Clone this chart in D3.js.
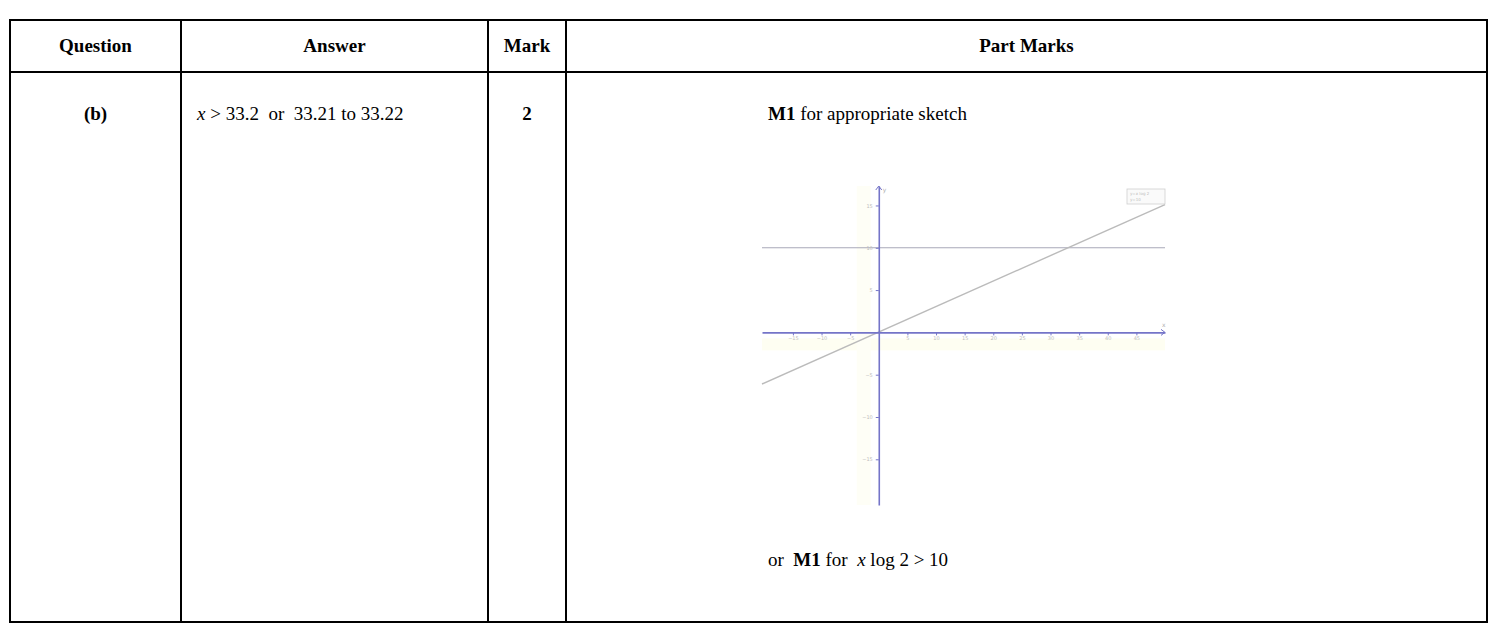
<!DOCTYPE html>
<html>
<head>
<meta charset="utf-8">
<script src="https://cdn.jsdelivr.net/npm/d3@7"></script>
<style>
  body { margin: 0; background: #fff; }
  svg text { font-family: "Liberation Serif", "Times New Roman", serif; white-space: pre; }
</style>
</head>
<body>
<div class="chart"></div>
<script>
// table content
const headers = ["Question", "Answer", "Mark", "Part Marks"];
const rowQuestion = "(b)";
const rowMark = "2";

// sketch data
const xTicks = [-15, -10, -5, 5, 10, 15, 20, 25, 30, 35, 40, 45];
const yTicks = [-15, -10, -5, 5, 10, 15];
const slopeLine = [{x: -20.4, y: -6.1}, {x: 50, y: 15.1}];   // y = x log 2
const levelLine = [{x: -20.4, y: 10}, {x: 50, y: 10}];      // y = 10

const W = 1496, H = 624;
const svg = d3.select(".chart").append("svg")
    .attr("width", W).attr("height", H);

// table grid
const colX = [10, 181, 488, 566, 1487];
const tblTop = 20, headBottom = 72, tblBottom = 622;

const grid = svg.append("g").attr("stroke", "#000").attr("stroke-width", 2);
colX.forEach(x => grid.append("line").attr("x1", x).attr("x2", x).attr("y1", tblTop - 1).attr("y2", tblBottom + 1));
[tblTop, headBottom, tblBottom].forEach(y => grid.append("line").attr("x1", colX[0] - 1).attr("x2", colX[4] + 1).attr("y1", y).attr("y2", y));

// header texts
svg.selectAll(".hdr")
    .data(headers)
    .enter()
    .append("text")
    .attr("class", "hdr")
    .attr("x", (d, i) => (colX[i] + colX[i + 1]) / 2)
    .attr("y", 52)
    .attr("text-anchor", "middle")
    .attr("font-size", 19)
    .attr("font-weight", "bold")
    .text(d => d);

const rowY = 120;
svg.append("text")
    .attr("x", (colX[0] + colX[1]) / 2).attr("y", rowY)
    .attr("text-anchor", "middle").attr("font-size", 19).attr("font-weight", "bold")
    .text(rowQuestion);

const ans = svg.append("text").attr("x", 197).attr("y", rowY).attr("font-size", 19);
ans.append("tspan").attr("font-style", "italic").text("x");
ans.append("tspan").text(" > 33.2  or  33.21 to 33.22");

svg.append("text")
    .attr("x", (colX[2] + colX[3]) / 2).attr("y", rowY)
    .attr("text-anchor", "middle").attr("font-size", 19).attr("font-weight", "bold")
    .text(rowMark);

const pm = svg.append("text").attr("x", 768).attr("y", rowY).attr("font-size", 19);
pm.append("tspan").attr("font-weight", "bold").text("M1");
pm.append("tspan").text(" for appropriate sketch");

const pm2 = svg.append("text").attr("x", 768).attr("y", 566).attr("font-size", 19);
pm2.append("tspan").text("or  ");
pm2.append("tspan").attr("font-weight", "bold").text("M1");
pm2.append("tspan").text(" for  ");
pm2.append("tspan").attr("font-style", "italic").text("x");
pm2.append("tspan").text(" log 2 > 10");

// the sketch
const xScale = d3.scaleLinear().domain([-20.4, 50]).range([762, 1165]);
const yScale = d3.scaleLinear().domain([-20.4, 17.3]).range([505, 186]);
const axisCol = "#7474c8";

const sk = svg.append("g");

// faint tint bands (scan artefacts)
sk.append("rect").attr("x", xScale(-20.4)).attr("y", yScale(0) + 6)
    .attr("width", xScale(50) - xScale(-20.4)).attr("height", 12).attr("fill", "#fefef2");
sk.append("rect").attr("x", xScale(0) - 22).attr("y", yScale(17.3))
    .attr("width", 14).attr("height", yScale(-20.4) - yScale(17.3)).attr("fill", "#fefef6");

const line = d3.line().x(d => xScale(d.x)).y(d => yScale(d.y));
sk.append("path").datum(levelLine).attr("d", line)
    .attr("stroke", "#a8a8b8").attr("stroke-width", 1.2).attr("fill", "none");
sk.append("path").datum(slopeLine).attr("d", line)
    .attr("stroke", "#bbbbbb").attr("stroke-width", 1.4).attr("fill", "none");

// axes through the origin
const xAxis = d3.axisBottom(xScale).tickValues(xTicks).tickSize(3).tickSizeOuter(0).tickFormat(d3.format("d"));
const yAxis = d3.axisLeft(yScale).tickValues(yTicks).tickSize(3).tickSizeOuter(0).tickFormat(d3.format("d"));

const gx = sk.append("g").attr("transform", `translate(0,${yScale(0)})`).call(xAxis);
const gy = sk.append("g").attr("transform", `translate(${xScale(0)},0)`).call(yAxis);
[gx, gy].forEach(g => {
    g.select(".domain").attr("stroke", axisCol).attr("stroke-width", 1.6);
    g.selectAll(".tick line").attr("stroke", axisCol).attr("stroke-width", 1);
    g.selectAll(".tick text").attr("fill", "#bdbdbd").attr("font-size", 5)
        .style("font-family", "DejaVu Sans");
});
gx.selectAll(".tick text").attr("dy", "0.4em");

// arrow heads and axis names
sk.append("path")
    .attr("d", `M${xScale(50) - 4},${yScale(0) - 3}L${xScale(50)},${yScale(0)}L${xScale(50) - 4},${yScale(0) + 3}`)
    .attr("stroke", axisCol).attr("fill", "none");
sk.append("path")
    .attr("d", `M${xScale(0) - 3},${yScale(17.3) + 4}L${xScale(0)},${yScale(17.3)}L${xScale(0) + 3},${yScale(17.3) + 4}`)
    .attr("stroke", axisCol).attr("fill", "none");
sk.append("text").attr("x", xScale(50) - 3).attr("y", yScale(0) - 5)
    .attr("font-size", 6).attr("fill", "#b0b0b0").style("font-family", "DejaVu Sans").text("x");
sk.append("text").attr("x", xScale(0) + 4).attr("y", yScale(17.3) + 6)
    .attr("font-size", 6).attr("fill", "#b0b0b0").style("font-family", "DejaVu Sans").text("y");

// small legend box
const lg = sk.append("g").attr("transform", "translate(1127,189)");
lg.append("rect").attr("width", 38).attr("height", 15)
    .attr("fill", "#fafafa").attr("stroke", "#cfcfcf").attr("stroke-width", 0.8);
lg.append("text").attr("x", 3).attr("y", 6).attr("font-size", 4).attr("fill", "#bbb")
    .style("font-family", "DejaVu Sans").text("y=x log 2");
lg.append("text").attr("x", 3).attr("y", 12).attr("font-size", 4).attr("fill", "#bbb")
    .style("font-family", "DejaVu Sans").text("y=10");
</script>
</body>
</html>
